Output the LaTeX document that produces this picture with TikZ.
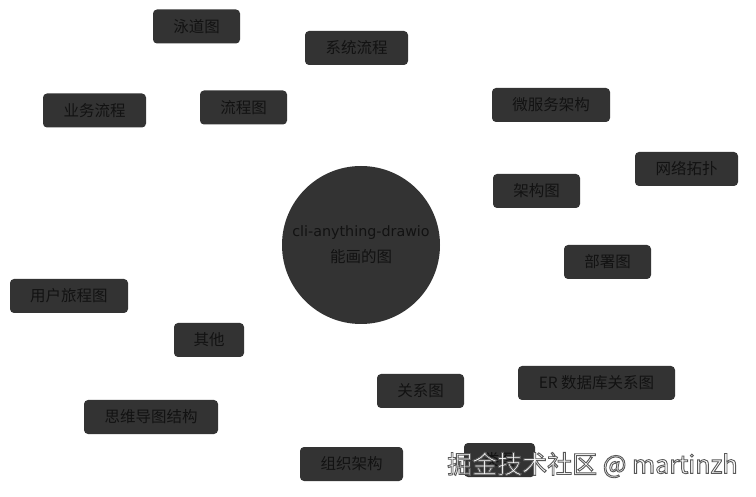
\documentclass[tikz,border=0pt]{standalone}
\usepackage{fontspec}
\setmainfont{Noto Sans CJK SC}
\newfontfamily\latinfont{DejaVu Sans}
\newfontfamily\cjkfont{Noto Sans CJK SC}
\definecolor{boxfill}{RGB}{51,51,51}
\definecolor{boxtext}{RGB}{18,18,18}
\tikzset{
  itembox/.style={draw=none, fill=boxfill, rounded corners=4pt, minimum height=34pt,
    text=boxtext, font=\cjkfont\fontsize{15.5}{18}\selectfont, inner sep=0pt, align=center},
  hubcircle/.style={circle, fill=boxfill, minimum size=158pt, inner sep=0pt, text=boxtext, align=center},
  wmtext/.style={text=white, font=\cjkfont\fontsize{25}{29}\selectfont, anchor=west, inner sep=0pt}
}
\begin{document}
\begin{tikzpicture}[x=1pt,y=-1pt]
\useasboundingbox[fill=white] (0,0) rectangle (756,497);
\node[hubcircle] (hub) at (361,245) {};
\node[text=boxtext, font=\latinfont\fontsize{14.3}{17}\selectfont, inner sep=0pt] (hubA) at (361,232.5) {cli-anything-drawio};
\node[text=boxtext, font=\cjkfont\fontsize{15.5}{18}\selectfont, inner sep=0pt] (hubB) at (361,256.5) {能画的图};
\node[itembox, minimum width=87pt] (n1) at (196.5,26.5) {泳道图};
\node[itembox, minimum width=103pt] (n2) at (356.5,48) {系统流程};
\node[itembox, minimum width=103pt] (n3) at (94.5,110.5) {业务流程};
\node[itembox, minimum width=87pt] (n4) at (243.5,107.5) {流程图};
\node[itembox, minimum width=118pt] (n5) at (551,105) {微服务架构};
\node[itembox, minimum width=103pt] (n6) at (686.5,169) {网络拓扑};
\node[itembox, minimum width=87pt] (n7) at (536.5,191) {架构图};
\node[itembox, minimum width=87pt] (n8) at (607.5,262) {部署图};
\node[itembox, minimum width=118pt] (n9) at (69,296) {用户旅程图};
\node[itembox, minimum width=70pt] (n10) at (209,340) {其他};
\node[itembox, minimum width=87pt] (n11) at (420.5,391) {关系图};
\node[itembox, minimum width=157pt] (n12) at (596.5,383) {ER 数据库关系图};
\node[itembox, minimum width=134pt] (n13) at (151,417) {思维导图结构};
\node[itembox, minimum width=103pt] (n14) at (351.5,464) {组织架构};
\node[itembox, minimum width=71pt] (n15) at (499.5,460) {类图};
\node[wmtext] (wm) at (447,465) {\special{pdf:literal direct 2 Tr 0.9 w 0.35 G}掘金技术社区 @ martinzh\special{pdf:literal direct 0 Tr}};
\end{tikzpicture}
\end{document}
